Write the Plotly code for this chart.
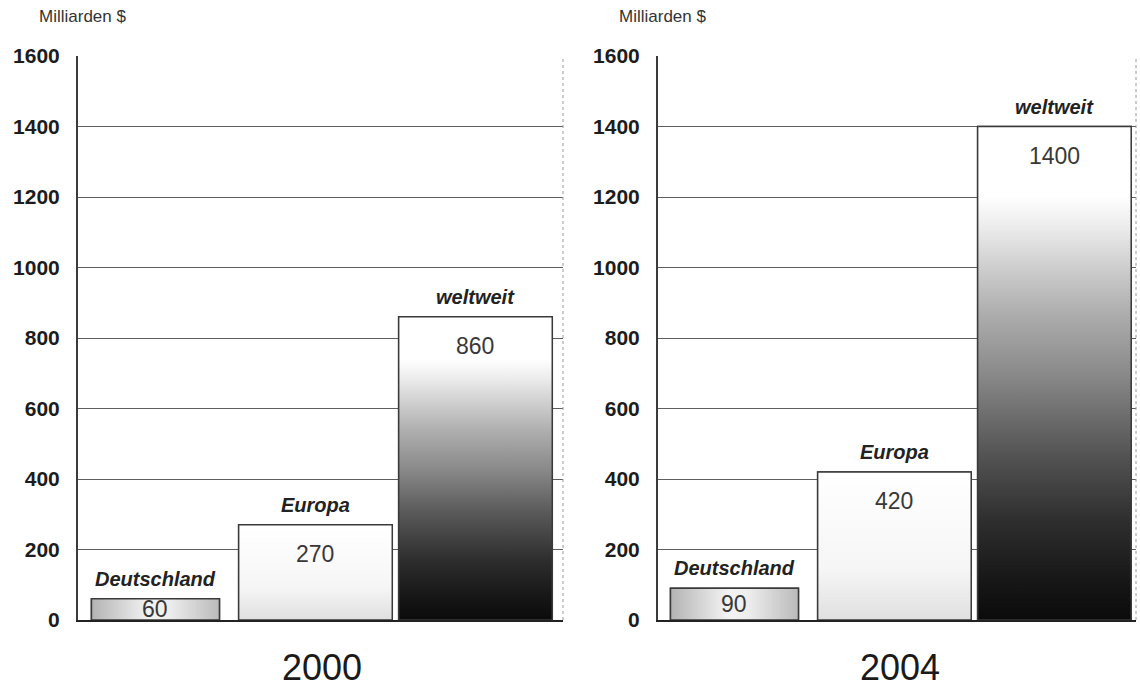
import plotly.graph_objects as go

# --- data -------------------------------------------------------------
categories = ["Deutschland", "Europa", "weltweit"]
years = ["2000", "2004"]
values_2000 = [60, 270, 860]
values_2004 = [90, 420, 1400]
y_ticks = [0, 200, 400, 600, 800, 1000, 1200, 1400, 1600]
unit_label = "Milliarden $"

# --- style ------------------------------------------------------------
FONT = "Liberation Sans, Arial, Helvetica, sans-serif"
W, H = 1140, 691
bar_positions = [0, 1, 2]
bar_widths = [0.80, 0.96, 0.96]
outline = "#3a3a3a"

# fill for each category: (orientation, colorscale)
fills = {
    "Deutschland": ("horizontal", [[0, "#b3b3b3"], [0.45, "#f3f3f3"],
                                    [0.6, "#eeeeee"], [1, "#bababa"]]),
    "Europa": ("vertical", [[0, "#e0e0e0"], [0.35, "#f6f6f6"], [1, "#ffffff"]]),
    "weltweit": ("vertical", [[0, "#0b0b0b"], [0.08, "#171717"], [0.2, "#2e2e2e"],
                               [0.35, "#585858"], [0.5, "#8a8a8a"], [0.62, "#adadad"],
                               [0.72, "#d0d0d0"], [0.8, "#ededed"], [0.86, "#ffffff"],
                               [1, "#ffffff"]]),
}

# panel geometry in pixels
panels = [
    dict(year=years[0], values=values_2000, x0=78, x1=563, xr=(-0.484, 2.547), year_x=322),
    dict(year=years[1], values=values_2004, x0=658, x1=1136, xr=(-0.478, 2.51), year_x=900),
]
y_bottom_px, y_top_px = 620, 56

fig = go.Figure()
annotations = []
shapes = []

for i, p in enumerate(panels):
    sfx = "" if i == 0 else str(i + 1)
    xa, ya = "x" + sfx, "y" + sfx
    for cat, pos, w, v in zip(categories, bar_positions, bar_widths, p["values"]):
        left, right = pos - w / 2, pos + w / 2
        kind, cs = fills[cat]
        if kind == "vertical":
            grad = dict(type="vertical", colorscale=cs, start=0, stop=v)
        else:
            grad = dict(type="horizontal", colorscale=cs, start=left, stop=right)
        # gradient body of the bar
        fig.add_trace(go.Scatter(
            x=[left, right, right, left, left], y=[0, 0, v, v, 0],
            mode="lines", fill="toself", fillgradient=grad,
            line=dict(color=outline, width=1.5),
            xaxis=xa, yaxis=ya, hoverinfo="skip", showlegend=False,
        ))
        # bar outline
        fig.add_trace(go.Bar(
            x=[pos], y=[v], width=[w], name=cat,
            marker=dict(color="rgba(0,0,0,0)", line=dict(color=outline, width=1.5)),
            xaxis=xa, yaxis=ya, showlegend=False,
        ))
        # category name above the bar
        annotations.append(dict(
            x=pos, y=v, xref=xa, yref=ya, text=f"<b><i>{cat}</i></b>",
            showarrow=False, yanchor="bottom", yshift=7,
            font=dict(family=FONT, size=20, color="#222222"),
        ))
        # value inside the bar
        if v < 150:
            vy, anchor, shift = v / 2, "middle", 0
        else:
            vy, anchor, shift = v, "top", -14
        annotations.append(dict(
            x=pos, y=vy, xref=xa, yref=ya, text=str(v), showarrow=False,
            yanchor=anchor, yshift=shift,
            font=dict(family=FONT, size=23, color="#383838"),
        ))
    # unit label above the axis
    annotations.append(dict(
        x=(p["x0"] - 41) / W, y=(H - 16) / H, xref="paper", yref="paper",
        text=unit_label, showarrow=False, xanchor="left", yanchor="middle",
        font=dict(family=FONT, size=17, color="#333333"),
    ))
    # year below the panel
    annotations.append(dict(
        x=p["year_x"] / W, y=(H - 667) / H, xref="paper", yref="paper",
        text=p["year"], showarrow=False, xanchor="center", yanchor="middle",
        font=dict(family=FONT, size=36, color="#1a1a1a"),
    ))
    # dotted right border of the panel
    shapes.append(dict(
        type="line", xref=f"{xa} domain", yref=ya, x0=1, x1=1, y0=0, y1=1600,
        line=dict(color="#9a9a9a", width=1, dash="dot"),
    ))

    dom_x = [p["x0"] / W, p["x1"] / W]
    dom_y = [(H - y_bottom_px) / H, (H - y_top_px) / H]
    fig.layout["xaxis" + sfx] = dict(
        domain=dom_x, range=list(p["xr"]), showticklabels=False, showgrid=False,
        zeroline=False, showline=True, linecolor="#222222", linewidth=2,
        anchor=ya, fixedrange=True, automargin=False,
    )
    fig.layout["yaxis" + sfx] = dict(
        domain=dom_y, range=[0, 1600], tickvals=y_ticks,
        ticktext=[str(t) for t in y_ticks], showgrid=True, gridcolor="#5e5e5e",
        gridwidth=1, zeroline=False, showline=True, linecolor="#3c3c3c",
        linewidth=2, ticks="", ticklabelstandoff=12, anchor=xa,
        tickfont=dict(family=FONT, size=21, color="#1c1c1c", weight="bold"),
        fixedrange=True, automargin=False,
    )

fig.update_layout(
    width=W, height=H, margin=dict(l=0, r=0, t=0, b=0, autoexpand=False),
    paper_bgcolor="white", plot_bgcolor="white",
    barmode="overlay", annotations=annotations, shapes=shapes,
    showlegend=False,
)

fig.write_html("out.html")
